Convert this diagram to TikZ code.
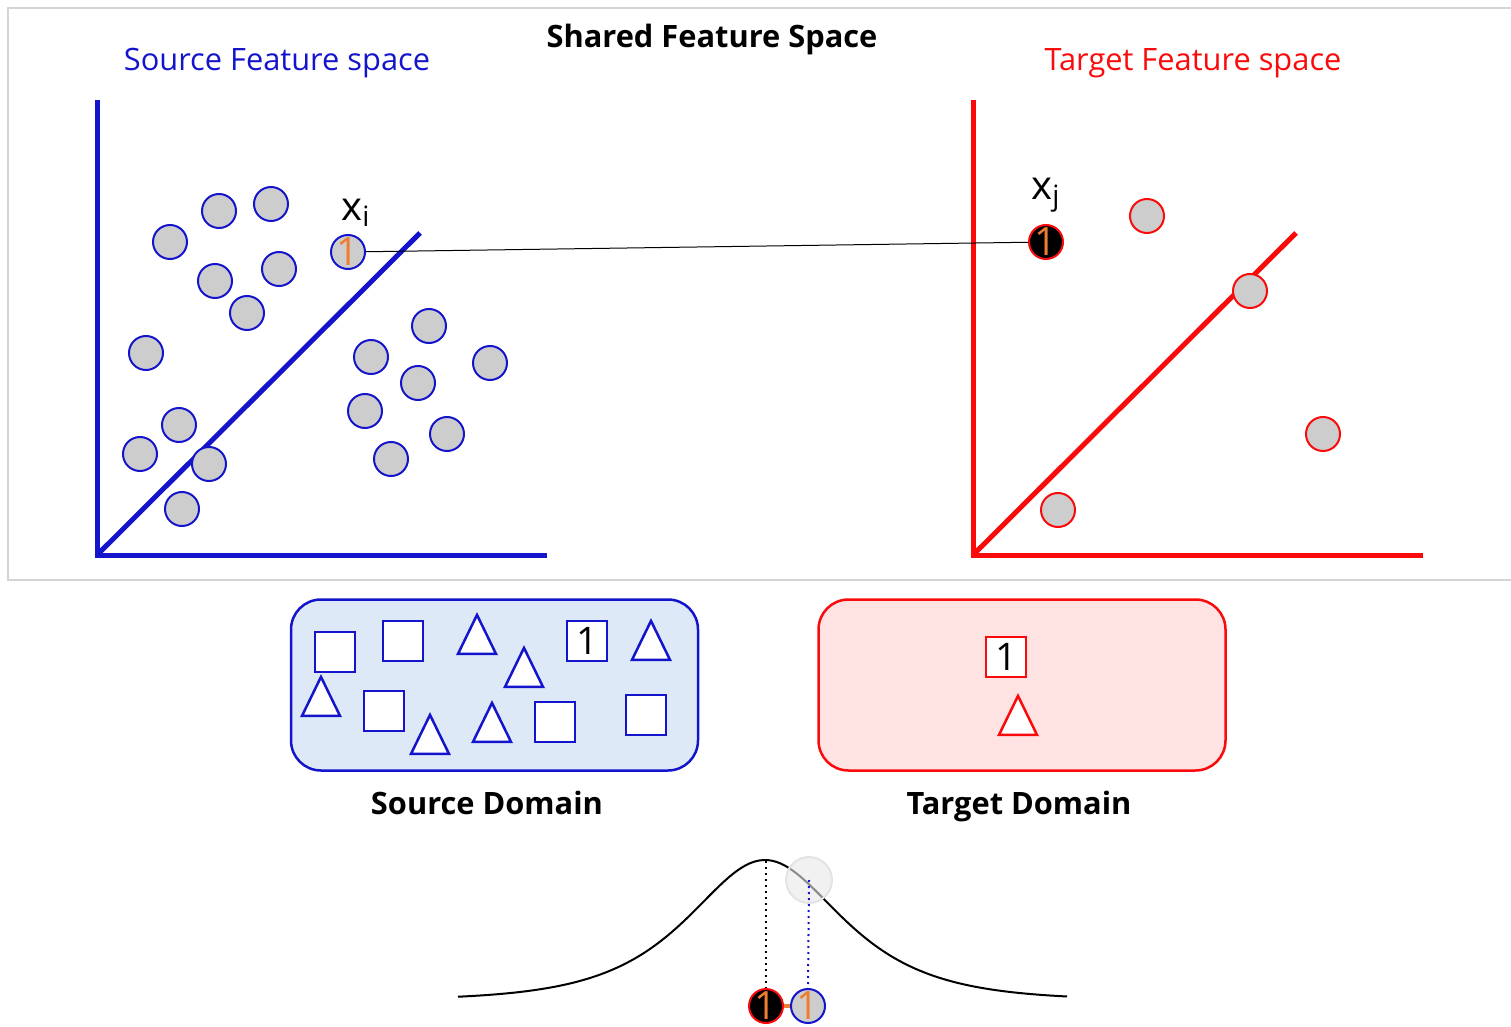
\documentclass[tikz,border=0pt]{standalone}
\usepackage{fontspec}
\setmainfont{Open Sans}
\usepackage{xcolor}
\usetikzlibrary{positioning,shapes.geometric}

\definecolor{srcblue}{RGB}{20,20,205}
\definecolor{tgtred}{RGB}{250,10,10}
\definecolor{ptgray}{RGB}{205,205,205}
\definecolor{numorange}{RGB}{237,125,49}
\definecolor{boxblue}{RGB}{221,233,246}
\definecolor{boxred}{RGB}{255,226,226}
\definecolor{framegray}{RGB}{212,212,212}

\begin{document}
\begin{tikzpicture}[x=0.5pt, y=-0.5pt]
    \tikzstyle{pt} = [circle, draw=srcblue, fill=ptgray, line width=1pt, minimum size=17pt, inner sep=0pt]
    \tikzstyle{tpt} = [pt, draw=tgtred]
    \tikzstyle{num} = [text=numorange, inner sep=0pt, font=\fontsize{19.5}{19.5}\selectfont]
    \tikzstyle{sq} = [rectangle, draw=srcblue, fill=white, line width=1.25pt, minimum size=20pt, inner sep=0pt, font=\fontsize{19}{19}\selectfont]
    \tikzstyle{tri} = [isosceles triangle, isosceles triangle stretches, shape border rotate=90, draw=srcblue, fill=white, line width=1.25pt, minimum width=19pt, minimum height=19.5pt, inner sep=0pt]
    \tikzstyle{axis} = [line width=2.5pt, line join=miter]
    \tikzstyle{domainbox} = [rectangle, rounded corners=15pt, line width=1.25pt, minimum width=203.5pt, minimum height=85.5pt]
    \tikzstyle{title} = [anchor=base, font=\fontsize{15.4}{18}\selectfont]
    \tikzstyle{boldtitle} = [anchor=base, font=\fontsize{15.4}{18}\selectfont\bfseries]

    \useasboundingbox (0,0) rectangle (1511,1027);
    \begin{scope}
        \clip (0,0) rectangle (1511,1027);
        \draw[framegray, line width=1pt] (8,8) rectangle (1530,580);
    \end{scope}

    % titles
    \node[title, srcblue] (srctitle) at (277,71) {Source Feature space};
    \node[boldtitle] (shared) at (712,48) {Shared Feature Space};
    \node[title, tgtred] (tgttitle) at (1193,71) {Target Feature space};

    % source feature space
    \draw[axis, srcblue] (97,100) -- (97,555) -- (547,555);
    \draw[axis, srcblue] (97,555) -- (420,233);
    \node[pt] (s1) at (170,242) {};
    \node[pt] (s2) at (219,211) {};
    \node[pt] (s3) at (271,204) {};
    \node[pt] (s4) at (215,281) {};
    \node[pt] (s5) at (279,269) {};
    \node[pt] (s6) at (247,313) {};
    \node[pt] (s7) at (146,353) {};
    \node[pt] (s8) at (179,425) {};
    \node[pt] (s9) at (140,454) {};
    \node[pt] (s10) at (209,464) {};
    \node[pt] (s11) at (182,509) {};
    \node[pt] (s12) at (429,326) {};
    \node[pt] (s13) at (371,357) {};
    \node[pt] (s14) at (490,363) {};
    \node[pt] (s15) at (418,383) {};
    \node[pt] (s16) at (365,411) {};
    \node[pt] (s17) at (447,434) {};
    \node[pt] (s18) at (391,459) {};
    \node[pt, label={[num]center:1}] (xi) at (348,252) {};
    \node[font=\fontsize{20}{20}\selectfont] (xilabel) at (356,213) {x\textsubscript{i}};

    % target feature space
    \draw[axis, tgtred] (973,100) -- (973,555) -- (1423,555);
    \draw[axis, tgtred] (973,555) -- (1296,233);
    \node[tpt] (t1) at (1147,216) {};
    \node[tpt] (t2) at (1250,291) {};
    \node[tpt] (t3) at (1323,434) {};
    \node[tpt] (t4) at (1058,510) {};
    \node[tpt, fill=black, label={[num]center:1}] (xj) at (1046,242) {};
    \node[font=\fontsize{20}{20}\selectfont] (xjlabel) at (1046,195) {x\textsubscript{j}};

    \draw[line width=0.5pt] (xi) -- (xj);

    % source domain
    \node[domainbox, draw=srcblue, fill=boxblue] (srcdom) at (494.5,685) {};
    \node[sq] (q1) at (335,652) {};
    \node[sq] (q2) at (403,641) {};
    \node[sq] (q3) at (587,641) {1};
    \node[sq] (q4) at (384,711) {};
    \node[sq] (q5) at (555,722) {};
    \node[sq] (q6) at (646,715) {};
    \node[tri] (r1) at (477,642) {};
    \node[tri] (r2) at (524,675) {};
    \node[tri] (r3) at (651,648) {};
    \node[tri] (r4) at (321,704) {};
    \node[tri] (r5) at (430,742) {};
    \node[tri] (r6) at (492,730) {};
    \node[boldtitle] (srclabel) at (487,814) {Source Domain};

    % target domain
    \node[domainbox, draw=tgtred, fill=boxred] (tgtdom) at (1022,685) {};
    \node[sq, draw=tgtred] (tq) at (1006,657) {1};
    \node[tri, draw=tgtred] (tr) at (1018,723) {};
    \node[boldtitle] (tgtlabel) at (1019,814) {Target Domain};

    % bottom: distribution
    \draw[line width=1pt] plot[domain=458:1067, samples=120, smooth] (\x,{1000-140/cosh((\x-765)/69)});
    \coordinate (peak) at (766,861);
    \node[pt, draw=tgtred, fill=black, label={[num]center:1}] (bt) at (766,1006) {};
    \node[pt, label={[num]center:1}] (bs) at (808,1006) {};
    \node[circle, draw=gray!22, fill=gray!18, fill opacity=0.6, line width=1pt, minimum size=23pt, inner sep=0pt] (hl) at (809,880) {};
    \draw[dotted, line width=1pt] (peak) -- (bt.north);
    \draw[dotted, srcblue, line width=1pt] (hl.center) -- (bs.north);
    \draw[numorange, line width=2pt] (bt.east) -- (bs.west);
\end{tikzpicture}
\end{document}
